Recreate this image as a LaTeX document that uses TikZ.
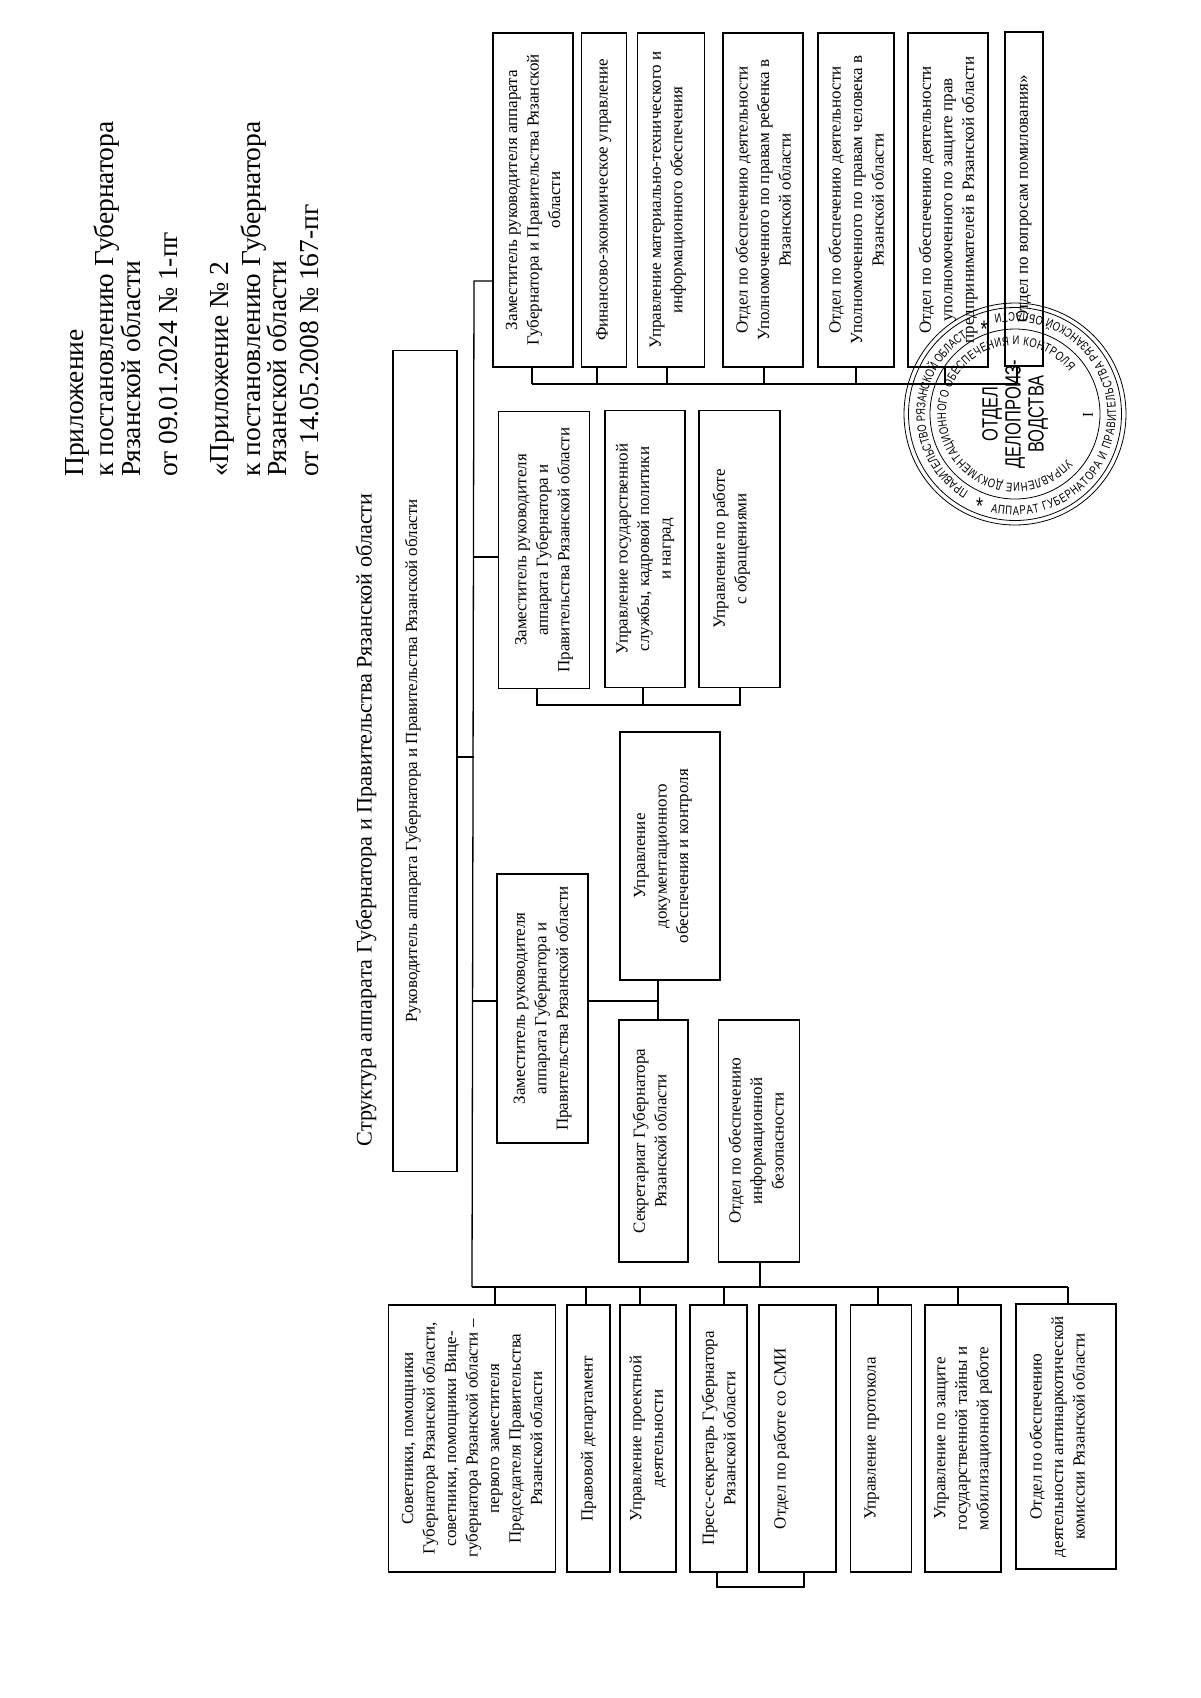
\documentclass[tikz,border=0pt]{standalone}
\usepackage{fontspec}
\setmainfont{Liberation Serif}
\newfontfamily\sealfont[FakeStretch=0.75]{Liberation Sans}
\usetikzlibrary{decorations.text}
\newcommand\sealtxt{\sealfont\fontsize{12.5}{12.5}\selectfont}
\begin{document}
\begin{tikzpicture}[x=1pt,y=1pt]
\tikzset{otdel/.style={draw, line width=1.3pt, rotate=90, align=center, inner sep=0pt, font=\fontsize{17}{21.5}\selectfont}}
\tikzset{svyaz/.style={line width=1.3pt}}
\tikzset{shapka/.style={rotate=90, anchor=base west, inner sep=0pt, font=\fontsize{27.5}{27.5}\selectfont}}
\tikzset{kolco/.style={draw, circle, line width=0.8pt, inner sep=0pt}}
\tikzset{dugatxt/.style={decorate, decoration={text along path, text align={fit to path}, text={#1}}}}
\useasboundingbox (0,0) rectangle (1200,-1698);
% header
\node[shapka] (H1) at (83,-477) {Приложение};
\node[shapka] (H2) at (113,-477) {к постановлению Губернатора};
\node[shapka] (H3) at (140,-477) {Рязанской области};
\node[shapka] (H4) at (177,-477) {от 09.01.2024 № 1-пг};
\node[shapka] (H5) at (228,-477) {«Приложение № 2};
\node[shapka] (H6) at (260,-477) {к постановлению Губернатора};
\node[shapka] (H7) at (286,-477) {Рязанской области};
\node[shapka] (H8) at (318,-477) {от 14.05.2008 № 167-пг};
\node[rotate=90, inner sep=0pt, font=\fontsize{22.2}{22.2}\selectfont] (T) at (366,-820) {Структура аппарата Губернатора и Правительства Рязанской области};
% head
\node[otdel, minimum width=821, minimum height=64] (Head) at (425,-761) {Руководитель аппарата Губернатора и Правительства Рязанской области\\[6.5pt]~};
% right column
\node[otdel, minimum width=334, minimum height=80] (R1) at (533,-200) {Заместитель руководителя аппарата\\Губернатора и Правительства Рязанской\\области};
\node[otdel, minimum width=334, minimum height=45] (R2) at (604,-200) {Финансово-экономическое управление};
\node[otdel, minimum width=334, minimum height=67] (R3) at (671,-200) {Управление материально-технического и\\информационного обеспечения\\[-11.5pt]~};
\node[otdel, minimum width=334, minimum height=80] (R4) at (763,-200) {Отдел по обеспечению деятельности\\Уполномоченного по правам ребенка в\\Рязанской области};
\node[otdel, minimum width=334, minimum height=76] (R5) at (856,-200) {Отдел по обеспечению деятельности\\Уполномоченного по правам человека в\\Рязанской области};
\node[otdel, minimum width=334, minimum height=80] (R6) at (948,-200) {Отдел по обеспечению деятельности\\уполномоченного по защите прав\\предпринимателей в Рязанской области};
\node[otdel, minimum width=334, minimum height=38] (R7) at (1024,-199) {Отдел по вопросам помилования»};
% middle top
\node[otdel, minimum width=277, minimum height=91] (M1) at (544,-550) {Заместитель руководителя\\аппарата Губернатора и\\Правительства Рязанской области};
\node[otdel, minimum width=277, minimum height=80] (M2) at (645,-549) {Управление государственной\\службы, кадровой политики\\и наград};
\node[otdel, minimum width=277, minimum height=81] (M3) at (739.5,-549) {Управление по работе\\с обращениями\\[-1.5pt]~};
% middle bottom
\node[otdel, minimum width=269, minimum height=91] (M4) at (542.5,-1008.5) {Заместитель руководителя\\аппарата Губернатора и\\Правительства Рязанской области};
\node[otdel, minimum width=248, minimum height=100] (M5) at (670,-856) {Управление\\документационного\\обеспечения и контроля\\[-3.5pt]~};
\node[otdel, minimum width=242, minimum height=69] (M6) at (653.5,-1141) {Секретариат Губернатора\\Рязанской области\\[-13.5pt]~};
\node[otdel, minimum width=242, minimum height=80.5] (M7) at (759,-1141) {Отдел по обеспечению\\информационной\\безопасности\\[-15.5pt]~};
% bottom row
\node[otdel, minimum width=267, minimum height=167] (B1) at (472,-1438.5) {Советники, помощники\\Губернатора Рязанской области,\\советники, помощники Вице-\\губернатора Рязанской области --\\первого заместителя\\Председателя Правительства\\Рязанской области};
\node[otdel, minimum width=267, minimum height=43] (B2) at (588.5,-1438.5) {Правовой департамент};
\node[otdel, minimum width=267, minimum height=56] (B3) at (648,-1438.5) {Управление проектной\\деятельности};
\node[otdel, minimum width=267, minimum height=57] (B4) at (718.5,-1438.5) {Пресс-секретарь Губернатора\\Рязанской области};
\node[otdel, minimum width=267, minimum height=77] (B5) at (797.5,-1438.5) {Отдел по работе со СМИ\\[14.5pt]~};
\node[otdel, minimum width=267, minimum height=61] (B6) at (881,-1438.5) {Управление протокола\\[0.5pt]~};
\node[otdel, minimum width=267, minimum height=76] (B7) at (963,-1438.5) {Управление по защите\\государственной тайны и\\мобилизационной работе};
\node[otdel, minimum width=265, minimum height=100] (B8) at (1066,-1436.5) {Отдел по обеспечению\\деятельности антинаркотической\\комиссии Рязанской области\\[-3.5pt]~};
% trunk
\coordinate (trunkTop) at (474,-281);
\coordinate (trunkBot) at (472,-1287);
\coordinate (headOut) at (474,-757);
\coordinate (m1In) at (474,-557);
\coordinate (m4In) at (473,-1001);
\coordinate (mUzel) at (658,-1001);
\draw[svyaz] (trunkTop -| R1.north) -- (trunkTop) -- (trunkBot);
\draw[svyaz] (headOut -| Head.south) -- (headOut);
\draw[svyaz] (m1In) -- (m1In -| M1.north);
\draw[svyaz] (m4In) -- (m4In -| M4.north);
\draw[svyaz] (M4.south |- mUzel) -- (mUzel);
\draw[svyaz] (mUzel |- M5.west) -- (mUzel |- M6.east);
% right bus
\coordinate (sR1) at (532,-384);
\coordinate (sR2) at (597,-384);
\coordinate (sR3) at (667,-384);
\coordinate (sR4) at (764,-384);
\coordinate (sR5) at (856,-384);
\coordinate (sR6) at (945,-384);
\coordinate (sR7) at (1017,-384);
\draw[svyaz] (sR1) -- (sR7);
\draw[svyaz] (sR1 |- R1.west) -- (sR1);
\draw[svyaz] (sR2 |- R2.west) -- (sR2);
\draw[svyaz] (sR3 |- R3.west) -- (sR3);
\draw[svyaz] (sR4 |- R4.west) -- (sR4);
\draw[svyaz] (sR5 |- R5.west) -- (sR5);
\draw[svyaz] (sR6 |- R6.west) -- (sR6);
\draw[svyaz] (sR7 |- R7.west) -- (sR7);
% middle bracket
\coordinate (sM1) at (537,-705);
\coordinate (sM2) at (643,-705);
\coordinate (sM3) at (740,-705);
\draw[svyaz] (sM1 |- M1.west) -- (sM1) -- (sM3) -- (sM3 |- M3.west);
\draw[svyaz] (sM2 |- M2.west) -- (sM2);
% bottom bus
\coordinate (sB1) at (495,-1287);
\coordinate (sB2) at (586,-1287);
\coordinate (sB3) at (640,-1287);
\coordinate (sB4) at (724,-1287);
\coordinate (sM7) at (760,-1287);
\coordinate (sB6) at (878,-1287);
\coordinate (sB7) at (958,-1287);
\coordinate (sB8) at (1068,-1287);
\draw[svyaz] (trunkBot) -- (sB8);
\draw[svyaz] (sB1) -- (sB1 |- B1.east);
\draw[svyaz] (sB2) -- (sB2 |- B2.east);
\draw[svyaz] (sB3) -- (sB3 |- B3.east);
\draw[svyaz] (sB4) -- (sB4 |- B4.east);
\draw[svyaz] (sB6) -- (sB6 |- B6.east);
\draw[svyaz] (sB7) -- (sB7 |- B7.east);
\draw[svyaz] (sB8) -- (sB8 |- B8.east);
\draw[svyaz] (sM7) -- (sM7 |- M7.west);
\coordinate (sB4n) at (717,-1587);
\coordinate (sB5n) at (804,-1587);
\draw[svyaz] (sB4n |- B4.west) -- (sB4n) -- (sB5n) -- (sB5n |- B5.west);
% seal
\node[kolco, minimum size=222] (seal) at (1015,-414) {};
\node[kolco, minimum size=213] (sealB) at (seal.center) {};
\node[kolco, minimum size=170] (sealC) at (seal.center) {};
\path[dugatxt={|\sealtxt|ПРАВИТЕЛЬСТВО РЯЗАНСКОЙ ОБЛАСТИ}] (seal.center) ++(239:90) arc (239:122:90);
\path[dugatxt={|\sealtxt|АППАРАТ ГУБЕРНАТОРА И ПРАВИТЕЛЬСТВА РЯЗАНСКОЙ ОБЛАСТИ}] (seal.center) ++(256:101) arc (256:462:101);
\path[dugatxt={|\sealtxt|УПРАВЛЕНИЕ ДОКУМЕНТАЦИОННОГО ОБЕСПЕЧЕНИЯ И КОНТРОЛЯ}] (seal.center) ++(319:69) arc (319:38:69);
\node[inner sep=0pt, font=\sealfont\fontsize{24}{24}\selectfont] (starA) at ([shift={(110:90)}]seal.center) {*};
\node[inner sep=0pt, font=\sealfont\fontsize{24}{24}\selectfont] (starB) at ([shift={(249:99)}]seal.center) {*};
\node[rotate=90, align=center, inner sep=0pt, font=\sealfont\fontsize{22}{23}\selectfont] (sealT) at (seal.center) {ОТДЕЛ\\ДЕЛОПРОИЗ-\\ВОДСТВА};
\node[rotate=90, inner sep=0pt, font=\fontsize{15}{15}\selectfont] (sealN) at (1088,-415) {I};
\end{tikzpicture}
\end{document}
